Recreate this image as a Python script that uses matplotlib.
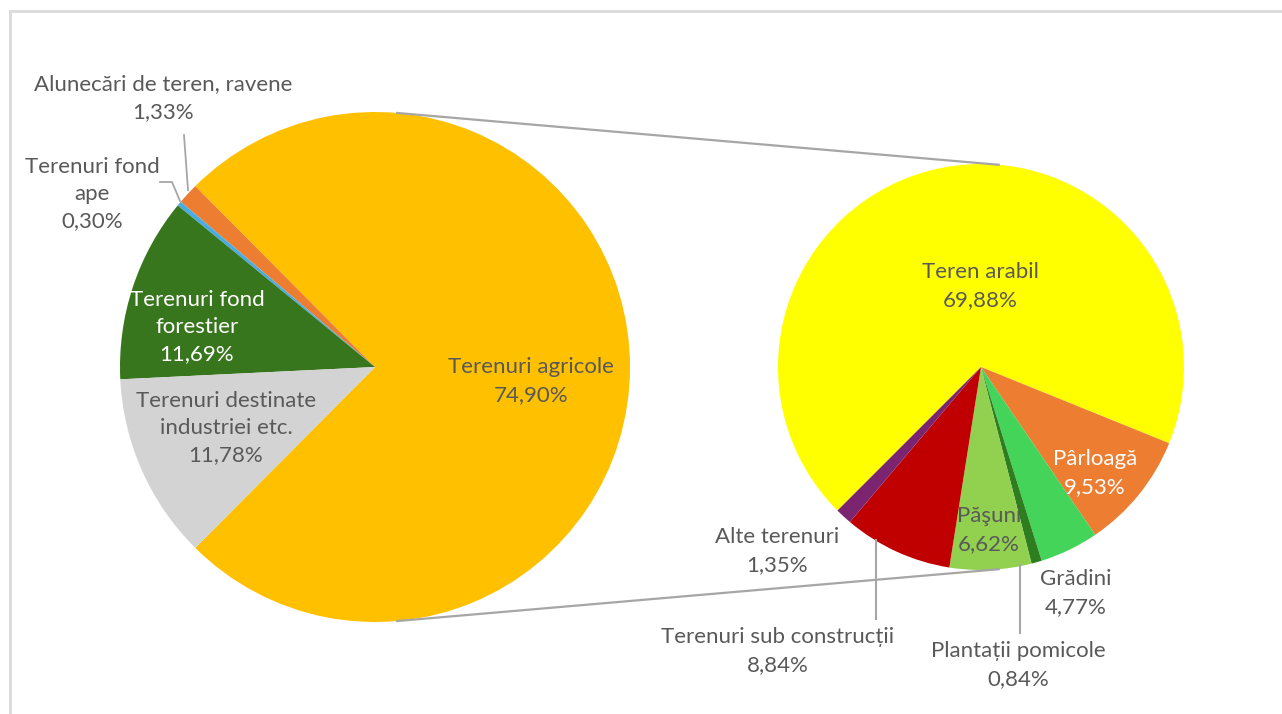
import numpy as np
import matplotlib.pyplot as plt
from matplotlib.patches import Rectangle

plt.rcParams['font.family'] = ['Lato', 'DejaVu Sans']

# main pie
main_labels = ['Terenuri agricole', 'Alunecări de teren, ravene', 'Terenuri fond\nape',
               'Terenuri fond\nforestier', 'Terenuri destinate\nindustriei etc.']
main_values = [74.90, 1.33, 0.30, 11.69, 11.78]
main_colors = ['#FFC000', '#ED7D31', '#4BACE0', '#38761D', '#D3D3D3']

# second pie (detail of Terenuri agricole)
sub_labels = ['Teren arabil', 'Pârloagă', 'Grădini', 'Plantații pomicole',
              'Păşuni', 'Terenuri sub construcții', 'Alte terenuri']
sub_values = [69.88, 9.53, 4.77, 0.84, 6.62, 8.84, 1.35]
sub_colors = ['#FFFF00', '#ED7D31', '#45D45A', '#2E7D1F', '#92D050', '#C00000', '#7B2570']

W, H = 1282, 714
TXT = '#595959'
LINE = '#A6A6A6'

def Y(y):
    return H - y

def pct(v):
    return ('%.2f%%' % v).replace('.', ',')

fig = plt.figure(figsize=(W / 100, H / 100), dpi=100)
ax = fig.add_axes([0, 0, 1, 1])

c1, r1 = (375, Y(367)), 255
c2, r2 = (981, Y(367)), 203

ax.pie(main_values, colors=main_colors, center=c1, radius=r1,
       startangle=-main_values[0] / 100 * 360 / 2, counterclock=True,
       wedgeprops=dict(linewidth=0))
ax.pie(sub_values, colors=sub_colors, center=c2, radius=r2,
       startangle=225, counterclock=False, wedgeprops=dict(linewidth=0))

# connector lines between the pies
for a in (85, -85):
    t = np.radians(a)
    ax.plot([c1[0] + r1 * np.cos(t), c2[0] + r2 * np.cos(t)],
            [c1[1] + r1 * np.sin(t), c2[1] + r2 * np.sin(t)],
            color=LINE, lw=1.6, zorder=3)

# leader lines
ax.plot([184, 188], [Y(135), Y(190)], color=LINE, lw=1.3)
ax.plot([160, 172, 180], [Y(182), Y(182), Y(201)], color=LINE, lw=1.3)
ax.plot([876, 876], [Y(540), Y(619)], color=LINE, lw=1.5, zorder=3)
ax.plot([1020, 1020], [Y(565), Y(633)], color=LINE, lw=1.5, zorder=3)

# data labels
fs = 16
ls = 1.45
main_pos = [(531, 381), (163, 98), (92, 194), (197, 327), (226, 428)]
main_tc = [TXT, TXT, TXT, 'white', TXT]
for lab, v, (x, y), tc in zip(main_labels, main_values, main_pos, main_tc):
    ax.text(x, Y(y), lab + '\n' + pct(v), ha='center', va='center',
            fontsize=fs, color=tc, linespacing=ls, zorder=4)

sub_pos = [(980, 286), (1095, 473), (1076, 593), (1018, 665),
           (989, 530), (778, 651), (777, 551)]
sub_tc = [TXT, 'white', TXT, TXT, TXT, TXT, TXT]
for lab, v, (x, y), tc in zip(sub_labels, sub_values, sub_pos, sub_tc):
    ax.text(x, Y(y), lab + '\n' + pct(v), ha='center', va='center',
            fontsize=fs, color=tc, linespacing=ls, zorder=4)

# chart border
ax.add_patch(Rectangle((10, -10), W + 20, Y(11) + 10, fill=False,
                       edgecolor='#D9D9D9', lw=2, zorder=5))

ax.set_xlim(0, W)
ax.set_ylim(0, H)
ax.set_aspect('auto')
ax.axis('off')

fig.savefig('out.png', dpi=100)
